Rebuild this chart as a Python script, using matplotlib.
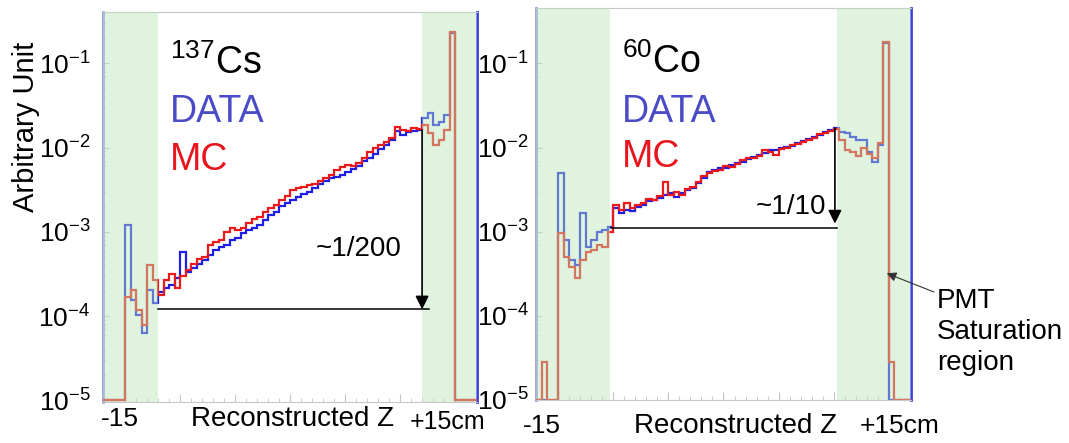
import matplotlib
matplotlib.use('Agg')

import matplotlib.pyplot as plt
import numpy as np
from matplotlib.ticker import MultipleLocator, NullFormatter

plt.rcParams['font.family'] = ['Liberation Sans', 'DejaVu Sans']
plt.rcParams['mathtext.fontset'] = 'custom'
plt.rcParams['mathtext.rm'] = 'Liberation Sans'
plt.rcParams['mathtext.it'] = 'Liberation Sans:italic'
plt.rcParams['mathtext.bf'] = 'Liberation Sans:bold'

# reconstructed z bins (cm), 0.5 cm wide
z_edges = np.linspace(-17, 17, 69)

cs_data = [1e-5, 1e-5, 1e-5, 1e-5,
           1.2e-3, 1.55e-4, 1.03e-4, 6.3e-5, 2.04e-4, 1.43e-4,
           1.93e-4, 2.16e-4, 2.34e-4, 2.84e-4, 5.77e-4, 3.34e-4, 3.73e-4, 4.16e-4,
           4.64e-4, 5.32e-4, 6.10e-4, 6.62e-4, 6.98e-4, 8.01e-4, 8.47e-4, 9.71e-4,
           1.05e-3, 1.11e-3, 1.21e-3, 1.38e-3, 1.59e-3, 1.72e-3, 2.03e-3, 2.20e-3,
           2.39e-3, 2.60e-3, 2.82e-3, 2.98e-3, 3.32e-3, 3.71e-3, 4.02e-3, 4.37e-3,
           4.49e-3, 4.74e-3, 5.14e-3, 5.58e-3, 6.07e-3, 6.95e-3, 7.55e-3, 8.42e-3,
           9.66e-3, 1.08e-2, 1.23e-2, 1.58e-2, 1.42e-2, 1.53e-2, 1.58e-2, 1.62e-2,
           2.25e-2, 2.58e-2, 1.86e-2, 2.02e-2, 2.44e-2, 0.23,
           1e-5, 1e-5, 1e-5, 1e-5]

cs_mc = [1e-5, 1e-5, 1e-5, 1e-5,
         1.68e-4, 2.04e-4, 1.18e-4, 7.8e-5, 4.05e-4, 2.69e-4,
         1.78e-4, 2.69e-4, 3.16e-4, 2.16e-4, 2.99e-4, 3.53e-4, 4.16e-4, 4.77e-4,
         5.04e-4, 6.98e-4, 7.59e-4, 8.01e-4, 9.98e-4, 1.11e-3, 1.05e-3, 1.11e-3,
         1.28e-3, 1.42e-3, 1.50e-3, 1.72e-3, 1.92e-3, 2.09e-3, 2.39e-3, 2.67e-3,
         3.15e-3, 3.32e-3, 3.41e-3, 3.61e-3, 3.71e-3, 4.02e-3, 4.37e-3, 4.74e-3,
         5.43e-3, 5.90e-3, 6.24e-3, 6.07e-3, 6.58e-3, 7.55e-3, 8.89e-3, 9.91e-3,
         1.08e-2, 1.17e-2, 1.30e-2, 1.76e-2, 1.62e-2, 1.58e-2, 1.71e-2, 1.67e-2,
         1.86e-2, 1.50e-2, 1.08e-2, 1.23e-2, 1.62e-2, 0.237,
         1e-5, 1e-5, 1e-5, 1e-5]

co_data = [1e-5, 1e-5, 1e-5, 1e-5,
           5.0e-3, 8.0e-4, 4.6e-4, 4.05e-4, 1.67e-3, 6.6e-4, 8.0e-4, 9.98e-4, 1.05e-3, 1.14e-3,
           1.92e-3, 1.67e-3, 1.82e-3, 1.77e-3, 1.98e-3, 2.09e-3, 2.33e-3, 2.39e-3,
           2.53e-3, 2.74e-3, 2.90e-3, 2.60e-3, 2.90e-3, 3.15e-3, 3.32e-3, 3.81e-3,
           4.37e-3, 5.14e-3, 5.43e-3, 5.74e-3, 5.74e-3, 6.24e-3, 6.58e-3, 6.76e-3,
           7.34e-3, 7.76e-3, 8.19e-3, 8.65e-3, 9.39e-3, 9.39e-3, 9.91e-3, 1.02e-2,
           1.05e-2, 1.14e-2, 1.20e-2, 1.27e-2, 1.34e-2, 1.42e-2, 1.53e-2, 1.62e-2, 1.71e-2,
           1.53e-2, 1.50e-2, 1.34e-2, 1.23e-2, 1.23e-2, 8.89e-3, 6.76e-3, 1.08e-2,
           0.175,
           1e-5, 1e-5, 1e-5, 1e-5]

co_mc = [1e-5, 2.8e-5, 1e-5, 1e-5,
         9.7e-4, 5.0e-4, 3.83e-4, 2.84e-4, 4.6e-4, 5.77e-4, 6.1e-4, 6.98e-4, 6.6e-4, 9.98e-4,
         2.09e-3, 1.82e-3, 2.20e-3, 1.92e-3, 2.09e-3, 2.20e-3, 2.46e-3, 2.39e-3,
         2.67e-3, 3.9e-3, 2.74e-3, 2.98e-3, 2.74e-3, 3.24e-3, 3.41e-3, 3.92e-3,
         4.62e-3, 5.01e-3, 5.28e-3, 5.43e-3, 6.07e-3, 5.90e-3, 6.40e-3, 7.14e-3,
         7.55e-3, 7.55e-3, 7.97e-3, 9.39e-3, 8.89e-3, 8.19e-3, 9.66e-3, 9.91e-3,
         1.08e-2, 1.11e-2, 1.17e-2, 1.23e-2, 1.30e-2, 1.46e-2, 1.50e-2, 1.58e-2, 1.67e-2,
         1.23e-2, 9.39e-3, 8.89e-3, 8.0e-3, 1.0e-2, 8.42e-3, 7.55e-3, 1.14e-2,
         0.18,
         2.8e-5, 1e-5, 1e-5, 1e-5]

y_ticks = [1e-5, 1e-4, 1e-3, 1e-2, 1e-1]
y_ticklabels = [r'$\mathregular{10^{-5}}$', r'$\mathregular{10^{-4}}$', r'$\mathregular{10^{-3}}$',
                r'$\mathregular{10^{-2}}$', r'$\mathregular{10^{-1}}$']

cs_green = 12.0   # saturation region edge (cm)
co_green = 10.3

BLUE = '#1e1ee6'
RED = '#eb1919'
GREEN = '#b8e6b8'


def draw_panel(ax, data, mc, green, ylim, pad):
    ax.set_yscale('log')
    ax.stairs(data, z_edges, baseline=None, color=BLUE, lw=1.6, zorder=2)
    ax.stairs(mc, z_edges, baseline=None, color=RED, lw=1.6, zorder=3)
    ax.axvspan(-17, -green, color=GREEN, alpha=0.45, lw=0, zorder=4)
    ax.axvspan(green, 17, color=GREEN, alpha=0.45, lw=0, zorder=4)
    ax.set_xlim(-17, 17)
    ax.set_ylim(*ylim)
    ax.set_yticks(y_ticks)
    ax.set_yticklabels(y_ticklabels, fontsize=19)
    ax.yaxis.set_minor_formatter(NullFormatter())
    ax.set_xticks(range(-15, 16, 5))
    ax.set_xticklabels([])
    ax.xaxis.set_minor_locator(MultipleLocator(1))
    ax.tick_params(axis='x', which='major', direction='in', length=6, color='#c4c4c4')
    ax.tick_params(axis='x', which='minor', direction='in', length=3, color='#c4c4c4')
    ax.tick_params(axis='y', which='major', direction='in', length=4, color='#c4c4c4', pad=pad)
    ax.tick_params(axis='y', which='minor', direction='in', length=2, color='#d4d4d4')
    ax.spines['left'].set_color('#9a9ae6')
    ax.spines['left'].set_linewidth(2)
    ax.spines['right'].set_color('#3c3ce6')
    ax.spines['right'].set_linewidth(2)
    ax.spines['top'].set_color('#c8c8c8')
    ax.spines['bottom'].set_color('#c8c8c8')


fig = plt.figure(figsize=(10.69, 4.43), dpi=100)
ax1 = fig.add_axes([0.0964, 0.0926, 0.3499, 0.8804])
ax2 = fig.add_axes([0.5014, 0.0971, 0.3508, 0.8849])

draw_panel(ax1, cs_data, cs_mc, cs_green, (10 ** -5.02, 10 ** -0.39), 9)
draw_panel(ax2, co_data, co_mc, co_green, (10 ** -5.0, 10 ** -0.34), 5)

arrow = dict(arrowstyle='-|>', color='black', lw=1.2, mutation_scale=20, shrinkA=0, shrinkB=0)

# Cs-137 panel
ax1.plot([-12, 12.6], [1.2e-4, 1.2e-4], color='black', lw=1.1, zorder=5)
ax1.annotate('', xy=(12, 1.2e-4), xytext=(12, 1.62e-2), arrowprops=arrow, zorder=5)
ax1.text(6.2, 6.3e-4, '~1/200', ha='center', va='center', fontsize=20)
ax1.text(0.179, 0.841, r'$^{137}$Cs', transform=ax1.transAxes, fontsize=27, va='baseline')
ax1.text(0.179, 0.718, 'DATA', transform=ax1.transAxes, fontsize=27, va='baseline', color='#4b4bc8')
ax1.text(0.179, 0.595, 'MC', transform=ax1.transAxes, fontsize=27, va='baseline', color='#e8141e')

# Co-60 panel
ax2.plot([-10.2, 10.3], [1.1e-3, 1.1e-3], color='black', lw=1.1, zorder=5)
ax2.annotate('', xy=(10.1, 1.25e-3), xytext=(10.1, 1.7e-2), arrowprops=arrow, zorder=5)
ax2.text(6.1, 1.98e-3, '~1/10', ha='center', va='center', fontsize=20)
ax2.text(0.229, 0.834, r'$^{60}$Co', transform=ax2.transAxes, fontsize=27, va='baseline')
ax2.text(0.229, 0.709, 'DATA', transform=ax2.transAxes, fontsize=27, va='baseline', color='#4b4bc8')
ax2.text(0.229, 0.594, 'MC', transform=ax2.transAxes, fontsize=27, va='baseline', color='#e8141e')

ax2.annotate('', xy=(14.8, 3.2e-4), xytext=(934 / 1069, 1 - 292 / 443), textcoords='figure fraction',
             arrowprops=dict(arrowstyle='-|>', color='#333333', lw=0.8, mutation_scale=14,
                             shrinkA=0, shrinkB=0), annotation_clip=False, zorder=6)
fig.text(937 / 1069, 1 - 288 / 443, 'PMT\nSaturation\nregion', ha='left', va='top',
         fontsize=20, linespacing=1.25)

fig.text(26 / 1069, 0.713, 'Arbitrary Unit', rotation=90, ha='center', va='center', fontsize=21)

fig.text(120 / 1069, 1 - 419 / 443, '-15', ha='center', va='center', fontsize=19)
fig.text(293 / 1069, 1 - 419 / 443, 'Reconstructed Z', ha='center', va='center', fontsize=20)
fig.text(448 / 1069, 1 - 422 / 443, '+15cm', ha='center', va='center', fontsize=18)
fig.text(542 / 1069, 1 - 426 / 443, '-15', ha='center', va='center', fontsize=19)
fig.text(736 / 1069, 1 - 426 / 443, 'Reconstructed Z', ha='center', va='center', fontsize=20)
fig.text(900 / 1069, 1 - 426 / 443, '+15cm', ha='center', va='center', fontsize=19)

plt.savefig('out.png', dpi=100)
